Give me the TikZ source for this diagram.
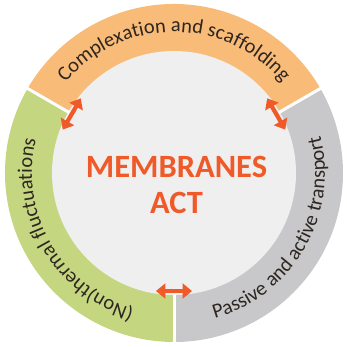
\documentclass[tikz,border=0pt]{standalone}
\usepackage{fontspec}
\setmainfont{Carlito}
\usetikzlibrary{arrows.meta,decorations.text}
\definecolor{bandorange}{HTML}{F9BB78}
\definecolor{bandgreen}{HTML}{C5D680}
\definecolor{bandgray}{HTML}{C8C8CA}
\definecolor{innerfill}{HTML}{EFEFF0}
\definecolor{actorange}{HTML}{EF5A28}
\definecolor{ringtext}{HTML}{2E2620}
\newcommand{\ringfont}{\fontsize{20.5}{24}\selectfont\color{ringtext}}
\tikzset{
  sector/.style={draw=none},
  divider/.style={draw=white,line width=3pt},
  linkarrow/.style={draw=actorange,line width=4.2pt,
    {Triangle[width=15pt,length=9.5pt]}-{Triangle[width=15pt,length=9.5pt]}},
  ringlabel/.style={decorate,decoration={text along path,text align=center,
    text={|\ringfont|#1}}},
  titletext/.style={text=actorange,font=\fontsize{32.5}{36}\selectfont\bfseries,inner sep=0pt,anchor=base}
}
\begin{document}
\begin{tikzpicture}[x=1pt,y=1pt]
\useasboundingbox (0,0) rectangle (347,346);
\begin{scope}[shift={(174,173)}]
\coordinate (C) at (0,0);
% sectors
\fill[bandorange] (C) -- (30:169) arc[start angle=30,end angle=150,radius=169] -- cycle;
\fill[bandgreen] (C) -- (150:169) arc[start angle=150,end angle=270,radius=169] -- cycle;
\fill[bandgray] (C) -- (270:169) arc[start angle=270,end angle=390,radius=169] -- cycle;
\fill[innerfill] (C) circle[radius=122];
% dividers
\foreach \a in {30,150,270}{
  \coordinate (din\a) at (\a:121);
  \coordinate (dout\a) at (\a:171);
  \draw[divider] (din\a) -- (dout\a);
}
% ring labels
\path[ringlabel={Complexation and scaffolding}] (150:141) arc[start angle=150,end angle=30,radius=141];
\path[ringlabel={(Non)thermal fluctuations}] (270:142) arc[start angle=270,end angle=150,radius=142];
\path[ringlabel={Passive and active transport}] (270:151) arc[start angle=270,end angle=390,radius=151];
% arrows
\foreach \a in {30,150,270}{
  \coordinate (aL\a) at (\a+8.7:119.4);
  \coordinate (aR\a) at (\a-8.7:119.4);
  \draw[linkarrow] (aL\a) -- (aR\a);
}
% title
\node[titletext] (mem) at (2.5,-4) {MEMBRANES};
\node[titletext] (act) at (2.5,-40) {ACT};
\end{scope}
\end{tikzpicture}
\end{document}
